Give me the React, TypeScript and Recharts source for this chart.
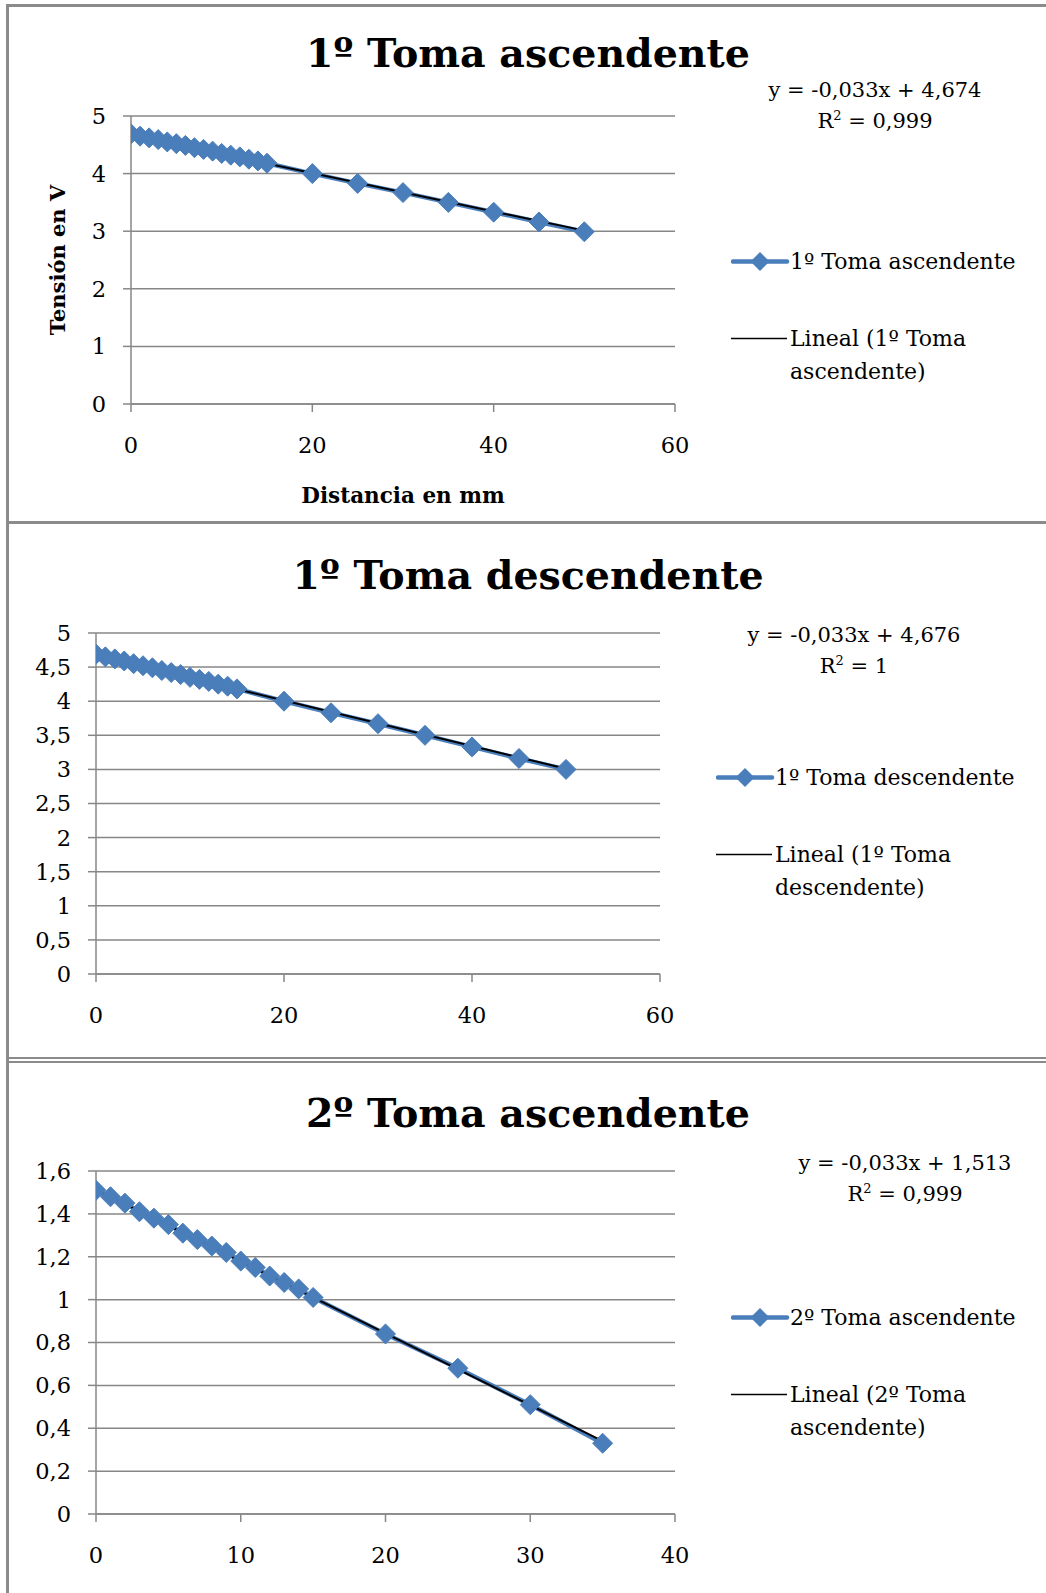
import React from "react";
import {
  LineChart,
  Line,
  XAxis,
  YAxis,
  CartesianGrid,
  Legend,
} from "recharts";

// distances (mm)
const xFull = [0, 1, 2, 3, 4, 5, 6, 7, 8, 9, 10, 11, 12, 13, 14, 15, 20, 25, 30, 35, 40, 45, 50];
const xShort = [0, 1, 2, 3, 4, 5, 6, 7, 8, 9, 10, 11, 12, 13, 14, 15, 20, 25, 30, 35];

// measured voltages (V)
const asc1 = [4.69, 4.65, 4.62, 4.59, 4.55, 4.52, 4.49, 4.45, 4.42, 4.39, 4.35, 4.32, 4.29, 4.25, 4.22, 4.18, 4.0, 3.83, 3.67, 3.5, 3.33, 3.16, 2.99];
const desc1 = [4.69, 4.65, 4.62, 4.59, 4.55, 4.52, 4.49, 4.45, 4.42, 4.39, 4.35, 4.32, 4.29, 4.25, 4.22, 4.18, 4.0, 3.83, 3.67, 3.5, 3.33, 3.16, 3.0];
const asc2 = [1.51, 1.48, 1.45, 1.41, 1.38, 1.35, 1.31, 1.28, 1.25, 1.22, 1.18, 1.15, 1.11, 1.08, 1.05, 1.01, 0.84, 0.68, 0.51, 0.33];

// trendline end points (x, y)
const trendAscX = [0, 50];
const trendAscY = [4.674, 3.01];
const trendDescX = [0, 50];
const trendDescY = [4.676, 3.01];
const trendAsc2X = [0, 35];
const trendAsc2Y = [1.513, 0.34];

const xTicks60 = [0, 20, 40, 60];
const xTicks40 = [0, 10, 20, 30, 40];
const yTicks1 = [0, 1, 2, 3, 4, 5];
const yTicks2 = [0, 0.5, 1, 1.5, 2, 2.5, 3, 3.5, 4, 4.5, 5];
const yTicks3 = [0, 0.2, 0.4, 0.6, 0.8, 1, 1.2, 1.4, 1.6];

const FONT = "'DejaVu Serif', serif";
const BLUE = "#4a7ebb";
const GRID = "#878787";
const FRAME = "#8b8b8b";

const zip = (xs: number[], ys: number[]) => xs.map((x, i) => ({ x, y: ys[i] }));
const fmt = (v: number) => String(v).replace(".", ",");

const Diamond = (props: any) => {
  const { cx, cy } = props;
  if (cx == null || cy == null) return null;
  const r = 10;
  return (
    <polygon
      points={`${cx},${cy - r} ${cx + r},${cy} ${cx},${cy + r} ${cx - r},${cy}`}
      fill={BLUE}
      stroke={BLUE}
      strokeWidth={1}
    />
  );
};

const LegendBox = ({ payload }: any) => (
  <div style={{ fontFamily: FONT, fontSize: 22, color: "#000", width: 300 }}>
    {(payload || []).map((entry: any, i: number) => {
      const isSeries = i === 0;
      return (
        <div
          key={i}
          style={{
            display: "flex",
            alignItems: "flex-start",
            marginBottom: isSeries ? 44 : 0,
          }}
        >
          <svg width={59} height={33} style={{ flex: "none" }}>
            {isSeries ? (
              <>
                <line x1={2} y1={16.5} x2={56} y2={16.5} stroke={BLUE} strokeWidth={4.5} strokeLinecap="round" />
                <polygon points="29,7 38.5,16.5 29,26 19.5,16.5" fill={BLUE} />
              </>
            ) : (
              <line x1={0} y1={16.5} x2={56} y2={16.5} stroke="#000" strokeWidth={1.5} />
            )}
          </svg>
          <div style={{ lineHeight: "33px", width: 240 }}>{entry.value}</div>
        </div>
      );
    })}
  </div>
);

interface PanelProps {
  top: number;
  height: number;
  title: string;
  series: { x: number; y: number }[];
  trend: { x: number; y: number }[];
  name: string;
  xDomain: [number, number];
  xTicks: number[];
  yDomain: [number, number];
  yTicks: number[];
  margin: { top: number; right: number; bottom: number; left: number };
  yWidth: number;
  eq: string[];
  eqPos: [number, number];
  legendPos: [number, number];
  yTitle?: boolean;
  xTitle?: boolean;
}

function Panel(p: PanelProps) {
  return (
    <div style={{ position: "absolute", left: 0, top: p.top, width: 1046, height: p.height }}>
      <div
        style={{
          position: "absolute",
          left: 0,
          width: 1056,
          top: 53 - 30,
          height: 60,
          lineHeight: "60px",
          textAlign: "center",
          fontFamily: FONT,
          fontWeight: "bold",
          fontSize: 39.5,
          color: "#000",
        }}
      >
        {p.title}
      </div>
      <div
        style={{
          position: "absolute",
          left: p.eqPos[0] - 150,
          top: p.eqPos[1] - 16,
          width: 300,
          textAlign: "center",
          fontFamily: FONT,
          fontSize: 21,
          lineHeight: "31px",
          color: "#000",
        }}
      >
        <div>{p.eq[0]}</div>
        <div>
          R<sup style={{ fontSize: 13, verticalAlign: "8px", lineHeight: 0 }}>2</sup>
          {p.eq[1]}
        </div>
      </div>
      {p.yTitle && (
        <div
          style={{
            position: "absolute",
            left: 58 - 100,
            top: 260 - 15,
            width: 200,
            height: 30,
            lineHeight: "30px",
            textAlign: "center",
            transform: "rotate(-90deg)",
            fontFamily: FONT,
            fontWeight: "bold",
            fontSize: 21,
            color: "#000",
          }}
        >
          Tensión en V
        </div>
      )}
      {p.xTitle && (
        <div
          style={{
            position: "absolute",
            left: 403 - 150,
            top: 496 - 15,
            width: 300,
            lineHeight: "30px",
            textAlign: "center",
            fontFamily: FONT,
            fontWeight: "bold",
            fontSize: 21.5,
            color: "#000",
          }}
        >
          Distancia en mm
        </div>
      )}
      <div style={{ position: "absolute", left: 0, top: 0 }}>
        <LineChart width={1046} height={p.height} margin={p.margin}>
          <CartesianGrid vertical={false} stroke={GRID} strokeWidth={1.5} />
          <XAxis
            type="number"
            dataKey="x"
            domain={p.xDomain}
            ticks={p.xTicks}
            allowDataOverflow
            height={40}
            tickSize={8}
            tickMargin={25}
            stroke={GRID}
            strokeWidth={1.5}
            tick={{ fill: "#000", fontSize: 22.5, fontFamily: FONT }}
          />
          <YAxis
            type="number"
            dataKey="y"
            domain={p.yDomain}
            ticks={p.yTicks}
            allowDataOverflow
            width={p.yWidth}
            tickSize={8}
            tickMargin={17}
            stroke={GRID}
            strokeWidth={1.5}
            tickFormatter={fmt}
            tick={{ fill: "#000", fontSize: 22.5, fontFamily: FONT }}
          />
          <Legend
            layout="vertical"
            align="center"
            verticalAlign="middle"
            content={<LegendBox />}
            wrapperStyle={{ left: p.legendPos[0], top: p.legendPos[1], width: 300 }}
          />
          <Line
            data={p.series}
            dataKey="y"
            name={p.name}
            stroke={BLUE}
            strokeWidth={4.5}
            dot={<Diamond />}
            activeDot={false}
            isAnimationActive={false}
          />
          <Line
            data={p.trend}
            dataKey="y"
            name={`Lineal (${p.name})`}
            stroke="#000"
            strokeWidth={2}
            dot={false}
            activeDot={false}
            isAnimationActive={false}
          />
        </LineChart>
      </div>
    </div>
  );
}

export default function App() {
  return (
    <div
      style={{
        position: "absolute",
        left: 0,
        top: 0,
        width: 1046,
        height: 1593,
        overflow: "hidden",
        background: "#fff",
      }}
    >
      <Panel
        top={0}
        height={522}
        title="1º Toma ascendente"
        series={zip(xFull, asc1)}
        trend={zip(trendAscX, trendAscY)}
        name="1º Toma ascendente"
        xDomain={[0, 60]}
        xTicks={xTicks60}
        yDomain={[0, 5]}
        yTicks={yTicks1}
        margin={{ top: 116, right: 371, bottom: 78, left: 0 }}
        yWidth={131}
        eq={["y = -0,033x + 4,674", " = 0,999"]}
        eqPos={[875, 91]}
        legendPos={[731, 261 - 16.5]}
        yTitle
        xTitle
      />
      <Panel
        top={522}
        height={538}
        title="1º Toma descendente"
        series={zip(xFull, desc1)}
        trend={zip(trendDescX, trendDescY)}
        name="1º Toma descendente"
        xDomain={[0, 60]}
        xTicks={xTicks60}
        yDomain={[0, 5]}
        yTicks={yTicks2}
        margin={{ top: 111, right: 386, bottom: 46, left: 0 }}
        yWidth={96}
        eq={["y = -0,033x + 4,676", " = 1"]}
        eqPos={[854, 114]}
        legendPos={[716, 255 - 16.5]}
      />
      <Panel
        top={1060}
        height={533}
        title="2º Toma ascendente"
        series={zip(xShort, asc2)}
        trend={zip(trendAsc2X, trendAsc2Y)}
        name="2º Toma ascendente"
        xDomain={[0, 40]}
        xTicks={xTicks40}
        yDomain={[0, 1.6]}
        yTicks={yTicks3}
        margin={{ top: 111, right: 371, bottom: 39, left: 0 }}
        yWidth={96}
        eq={["y = -0,033x + 1,513", " = 0,999"]}
        eqPos={[905, 104]}
        legendPos={[731, 257 - 16.5]}
      />
      {/* frames */}
      <div style={{ position: "absolute", left: 6, top: 4, width: 3, height: 1600, background: FRAME }} />
      <div style={{ position: "absolute", left: 6, top: 4, width: 1050, height: 3, background: FRAME }} />
      <div style={{ position: "absolute", left: 6, top: 521, width: 1050, height: 3, background: FRAME }} />
      <div style={{ position: "absolute", left: 6, top: 1057, width: 1050, height: 2, background: FRAME }} />
      <div style={{ position: "absolute", left: 6, top: 1061, width: 1050, height: 2, background: FRAME }} />
    </div>
  );
}
